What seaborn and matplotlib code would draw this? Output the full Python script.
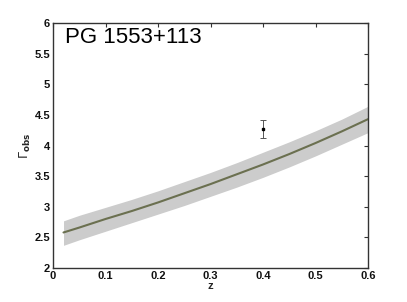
import numpy as np
import pandas as pd
import matplotlib
matplotlib.use("Agg")
import matplotlib.pyplot as plt
import seaborn as sns

# model curve
z_model = [0.02, 0.05, 0.10, 0.15, 0.20, 0.25, 0.30, 0.35, 0.40, 0.45, 0.50, 0.55, 0.60]
gamma_model = [2.58, 2.66, 2.80, 2.93, 3.07, 3.22, 3.37, 3.53, 3.69, 3.86, 4.04, 4.23, 4.43]
gamma_low = [2.37, 2.46, 2.60, 2.74, 2.88, 3.02, 3.17, 3.32, 3.48, 3.65, 3.83, 4.02, 4.21]
gamma_high = [2.77, 2.86, 2.99, 3.12, 3.26, 3.41, 3.56, 3.72, 3.89, 4.06, 4.24, 4.43, 4.64]

# observed point
z_obs = [0.40]
gamma_obs = [4.27]
gamma_err = [0.14]

title = "PG 1553+113"
xticks = [0, 0.1, 0.2, 0.3, 0.4, 0.5, 0.6]
xticklabels = ["0", "0.1", "0.2", "0.3", "0.4", "0.5", "0.6"]
yticks = [2, 2.5, 3, 3.5, 4, 4.5, 5, 5.5, 6]
yticklabels = ["2", "2.5", "3", "3.5", "4", "4.5", "5", "5.5", "6"]

sns.set_style("white")
plt.rcParams['font.family'] = ['Liberation Sans', 'DejaVu Sans']

fig = plt.figure(figsize=(4.07, 3.02), dpi=100)
ax = fig.add_axes([53/407, 1 - 268/302, (368-53)/407, (268-23)/302])

df = pd.DataFrame({"z": z_model, "g": gamma_model})
ax.fill_between(z_model, gamma_low, gamma_high, color="#cccccc", linewidth=0)
sns.lineplot(data=df, x="z", y="g", ax=ax, color="#6b7050", linewidth=1.5)
ax.errorbar(z_obs, gamma_obs, yerr=gamma_err, fmt="s", color="black",
            ecolor="#555555", elinewidth=0.7, capsize=2.5, capthick=0.7,
            markersize=2)

ax.set_xlim(0, 0.6)
ax.set_ylim(2, 6)
ax.set_xticks(xticks)
ax.set_xticklabels(xticklabels, fontweight="bold")
ax.set_yticks(yticks)
ax.set_yticklabels(yticklabels, fontweight="bold")
ax.tick_params(direction="in", length=3, width=0.8, top=True, right=True,
               labelsize=8, pad=2, colors="#333333", labelcolor="#111111")
for s in ax.spines.values():
    s.set_color("#333333")
    s.set_linewidth(1.0)

ax.set_xlabel("z", fontsize=8, fontweight="bold", labelpad=0)
ax.set_ylabel(r"$\Gamma_{\mathbf{obs}}$", fontsize=9, labelpad=1)
ax.text(0.037, 0.985, title, transform=ax.transAxes, fontsize=16,
        va="top", ha="left", color="black")

fig.savefig("out.png", dpi=100)
